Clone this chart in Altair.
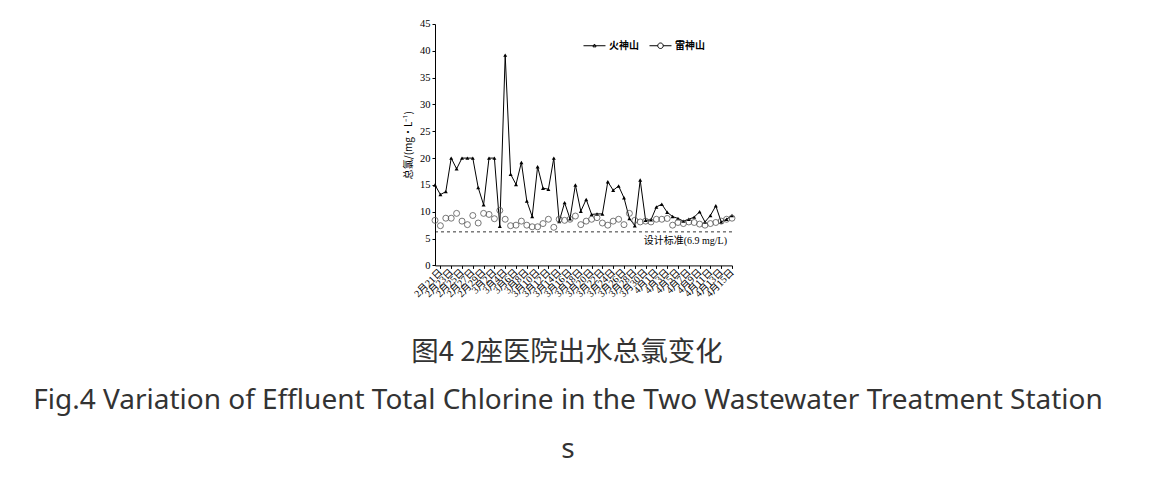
import altair as alt
import pandas as pd

# ---- data ----
dates = ([f"2月{d}日" for d in range(20, 30)] +
         [f"3月{d}日" for d in range(1, 32)] +
         [f"4月{d}日" for d in range(1, 16)])

huoshenshan = [15.0, 13.2, 13.75, 20.0, 18.0, 20.0, 20.0, 20.0, 14.5, 11.3,
               20.0, 20.0, 7.3, 39.2, 17.0, 15.1, 19.2, 12.0, 9.1, 18.4,
               14.4, 14.2, 20.0, 8.2, 11.7, 8.7, 15.0, 10.1, 12.3, 9.5,
               9.6, 9.6, 15.6, 14.0, 14.8, 12.6, 8.75, 7.4, 15.9, 8.4,
               8.5, 10.9, 11.4, 9.9, 9.1, 8.75, 8.25, 8.6, 9.0, 10.0,
               8.1, 9.3, 11.1, 8.1, 8.6, 9.3]

leishenshan = [8.4, 7.4, 8.8, 8.8, 9.7, 8.25, 7.6, 9.3, 7.9, 9.7,
               9.5, 8.7, 10.25, 8.6, 7.4, 7.5, 8.25, 7.5, 7.2, 7.2,
               7.8, 8.6, 7.1, 8.6, 8.4, 8.6, 9.2, 7.6, 8.25, 8.6,
               8.9, 7.9, 7.5, 8.25, 8.6, 7.6, 9.7, 8.4, 8.1, 8.25,
               8.1, 8.6, 8.6, 8.75, 7.5, 8.0, 7.8, 8.1, 8.0, 7.7,
               7.5, 7.8, 8.0, 8.25, 8.6, 8.8]

series_names = ["火神山", "雷神山"]
standard_line = 6.25
standard_label = "设计标准(6.9 mg/L)"
y_ticks = list(range(0, 50, 5))
x_ticks = dates[1::2]

caption_cn = "图4 2座医院出水总氯变化"
caption_en1 = "Fig.4 Variation of Effluent Total Chlorine in the Two Wastewater Treatment Station"
caption_en2 = "s"

df = pd.DataFrame({"date": dates, "huo": huoshenshan, "lei": leishenshan})

SERIF = "Liberation Serif, Noto Sans CJK SC"
CJK = "Noto Sans CJK SC"

x_scale = alt.Scale(type="point", padding=0, domain=dates)
x_axis = alt.Axis(values=x_ticks, labelAngle=315, labelAlign="right",
                  labelBaseline="middle", labelFont=SERIF, labelFontSize=10,
                  labelColor="black", tickColor="black", domainColor="black",
                  tickSize=3, labelPadding=2, labelOverlap=False,
                  title=None, grid=False)
y_scale = alt.Scale(domain=[0, 45], nice=False)
y_axis = alt.Axis(values=y_ticks, title="总氯/(mg·L⁻¹)", titleFont=CJK, titleFontSize=10,
                  titleFontWeight="normal", titleColor="black", titlePadding=6,
                  labelFont=SERIF, labelFontSize=10.5, labelColor="black", labelOverlap=False,
                  tickColor="black", domainColor="black", tickSize=3, grid=False)


def X(field):
    return alt.X(field, sort=dates, scale=x_scale, axis=x_axis)


def Y(field):
    return alt.Y(field, scale=y_scale, axis=y_axis)


base = alt.Chart(df)

line = base.mark_line(color="black", strokeWidth=1).encode(x=X("date:O"), y=Y("huo:Q"))
tri = base.mark_point(shape="triangle-up", filled=True, color="black", size=16, opacity=1).encode(
    x=X("date:O"), y=Y("huo:Q"))
circ = base.mark_point(shape="circle", filled=False, color="#555555", size=36,
                       strokeWidth=0.8, opacity=1).encode(x=X("date:O"), y=Y("lei:Q"))

rule = alt.Chart(pd.DataFrame({"v": [standard_line]})).mark_rule(
    color="black", strokeDash=[3, 3], strokeWidth=0.8).encode(y=Y("v:Q"))

std_text = alt.Chart(pd.DataFrame({"v": [standard_line], "t": [standard_label],
                                   "d": [dates[-1]]})).mark_text(
    align="right", baseline="top", dx=-5, dy=4, font=SERIF, fontSize=10, color="black").encode(
    x=X("d:O"), y=Y("v:Q"), text="t:N")

path_huo = "M-1,0H1M0,-0.16L0.14,0.1H-0.14Z"
path_lei = "M-1,0H-0.25M0.25,0H1M0.25,0A0.25,0.25,0,1,1,-0.25,0A0.25,0.25,0,1,1,0.25,0Z"

legend_layer = alt.Chart(pd.DataFrame({"series": series_names})).mark_point(
    opacity=0, color="black", filled=False, strokeWidth=1).encode(
    shape=alt.Shape("series:N", scale=alt.Scale(domain=series_names, range=[path_huo, path_lei]),
                    legend=alt.Legend(title=None, orient="none", legendX=148, legendY=10,
                                      direction="horizontal", symbolSize=484,
                                      symbolOpacity=1, symbolStrokeColor="black",
                                      symbolStrokeWidth=1, symbolFillColor="white",
                                      labelFont=CJK, labelFontSize=10,
                                      labelFontWeight="bold", labelColor="black",
                                      labelOffset=3, columnPadding=8)))

cap1 = alt.Chart(pd.DataFrame({"t": [caption_cn]})).mark_text(
    font=CJK, fontSize=27.5, color="#333333", align="center", baseline="alphabetic").encode(
    x=alt.value(132), y=alt.value(337), text="t:N")
cap2 = alt.Chart(pd.DataFrame({"t": [caption_en1]})).mark_text(
    font="Noto Sans", fontSize=28, color="#333333", align="center", baseline="alphabetic").encode(
    x=alt.value(133), y=alt.value(385), text="t:N")
cap3 = alt.Chart(pd.DataFrame({"t": [caption_en2]})).mark_text(
    font="Noto Sans", fontSize=28, color="#333333", align="center", baseline="alphabetic").encode(
    x=alt.value(133), y=alt.value(434), text="t:N")

chart = alt.layer(rule, line, tri, circ, std_text, legend_layer, cap1, cap2, cap3).properties(
    width=297, height=241.4,
    padding={"left": 427, "top": 16, "right": 416, "bottom": 210},
    autosize=alt.AutoSizeParams(type="none"),
    background="white",
).configure_view(stroke=None)

chart.save("out.html", embed_options={"renderer": "svg", "actions": False})
